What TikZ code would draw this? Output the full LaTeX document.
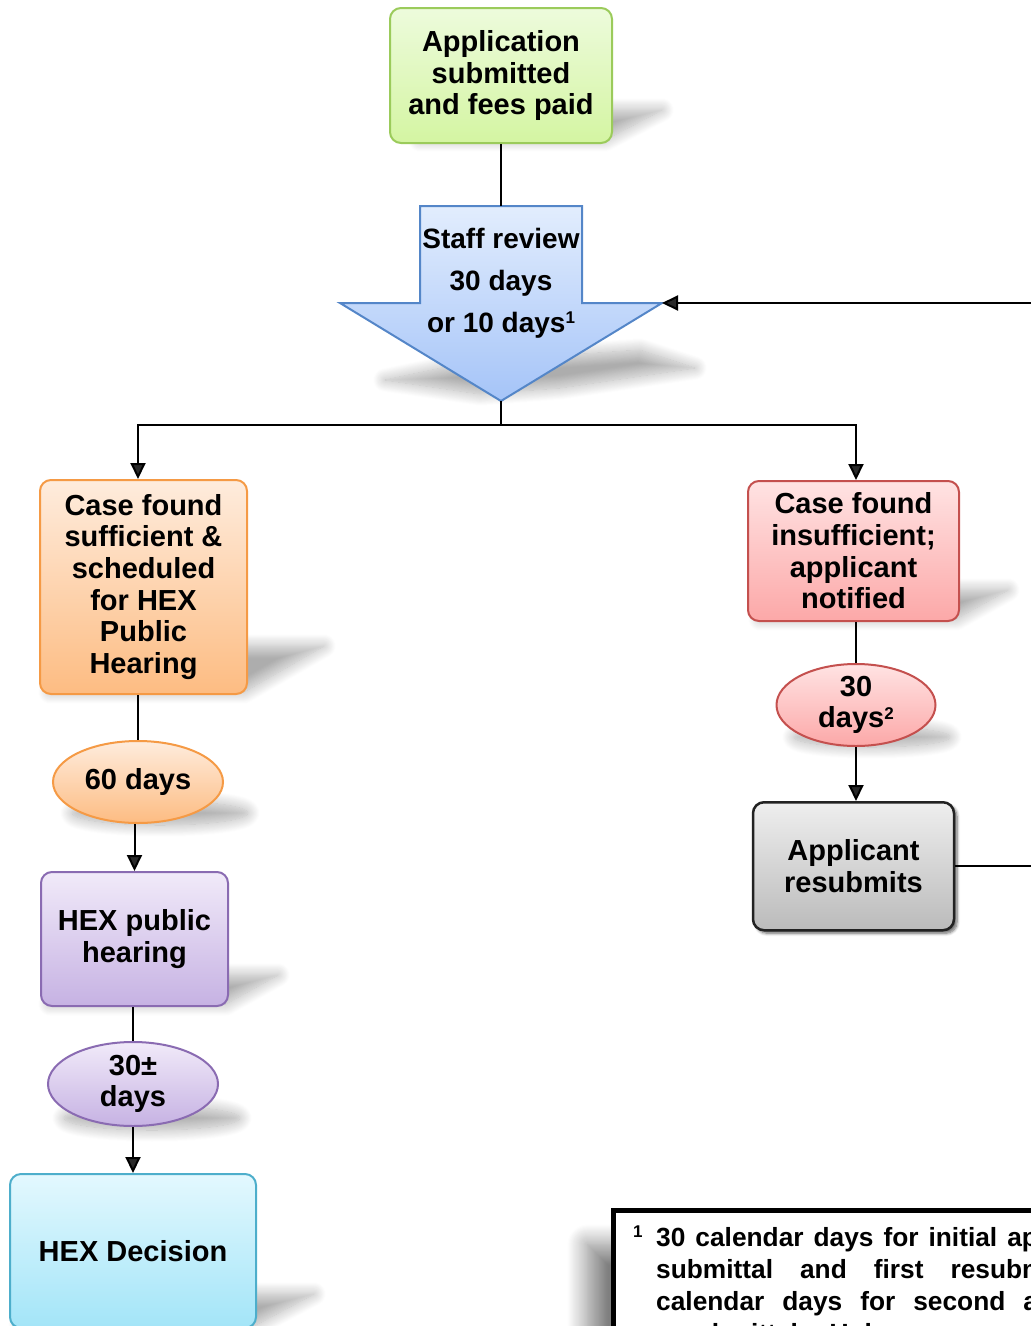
\documentclass[tikz,border=0pt]{standalone}
\usepackage{fontspec}
\setmainfont{Liberation Sans}
\usetikzlibrary{arrows.meta,shapes.geometric,shadows.blur,positioning}

\definecolor{appTop}{HTML}{EDFBDC}
\definecolor{appBot}{HTML}{D4F5A2}
\definecolor{appLine}{HTML}{9BCB5B}
\definecolor{revTop}{HTML}{E2EDFD}
\definecolor{revBot}{HTML}{A5C4F8}
\definecolor{revLine}{HTML}{5486C8}
\definecolor{sufTop}{HTML}{FEECDD}
\definecolor{sufBot}{HTML}{FDBC82}
\definecolor{sufLine}{HTML}{F59A45}
\definecolor{insTop}{HTML}{FFE3E3}
\definecolor{insBot}{HTML}{FCA8A8}
\definecolor{insLine}{HTML}{C4504E}
\definecolor{hexTop}{HTML}{F1EAF9}
\definecolor{hexBot}{HTML}{C6B2E3}
\definecolor{hexLine}{HTML}{8A6BB2}
\definecolor{decTop}{HTML}{E3F8FE}
\definecolor{decBot}{HTML}{A3E5F8}
\definecolor{decLine}{HTML}{4DAECB}
\definecolor{resTop}{HTML}{EEEEEE}
\definecolor{resBot}{HTML}{BBBBBB}
\definecolor{resLine}{HTML}{222222}

\newcommand{\boxfont}{\bfseries\fontsize{29}{31.7}\selectfont}
\newcommand{\reviewfont}{\bfseries\fontsize{28}{42}\selectfont}
\newcommand{\notefont}{\bfseries\fontsize{26.3}{32}\selectfont}
\newcommand{\wordgap}[2]{{\spaceskip=#1\relax #2}}
\newcommand{\fnmark}[1]{\raisebox{8.5pt}{\fontsize{17}{17}\selectfont #1}}

\begin{document}
\begin{tikzpicture}[x=1pt, y=-1pt,
  flow/.style={draw, line width=2pt, rounded corners=11pt, align=center, inner sep=0pt, font=\boxfont},
  oval/.style={draw, ellipse, line width=2pt, align=center, inner sep=-8pt, font=\boxfont},
  greenbox/.style={top color=appTop, bottom color=appBot, draw=appLine},
  orangebox/.style={top color=sufTop, bottom color=sufBot, draw=sufLine},
  redbox/.style={top color=insTop, bottom color=insBot, draw=insLine},
  purplebox/.style={top color=hexTop, bottom color=hexBot, draw=hexLine},
  cyanbox/.style={top color=decTop, bottom color=decBot, draw=decLine},
  graybox/.style={top color=resTop, bottom color=resBot, draw=resLine, line width=2.5pt,
    blur shadow={shadow xshift=3pt, shadow yshift=-3pt, shadow blur radius=3pt, shadow blur steps=6, shadow opacity=60}},
  link/.style={line width=2pt},
  arr/.style={link, -{Triangle[length=16pt, width=15pt]}},
  floor/.style={blur shadow={shadow xshift=0pt, shadow yshift=0pt, shadow blur radius=12pt, shadow blur steps=16, shadow opacity=32}}]
\useasboundingbox (0,0) rectangle (1031,1326);
\clip (0,0) rectangle (1031,1326);

% floor shadows
\path[floor] (420,140) -- (605,140) -- (662,110) -- (477,110) -- cycle;
\path[floor] (385,380) -- (480,394) -- (560,388) -- (695,368) -- (640,350) -- (470,362) -- cycle;
\path[floor] (50,692) -- (244,692) -- (324,646) -- (130,646) -- cycle;
\path[floor] (760,619) -- (956,619) -- (1008,590) -- (812,590) -- cycle;
\path[floor] (50,1004) -- (226,1004) -- (278,975) -- (102,975) -- cycle;
\path[floor] (20,1326) -- (254,1326) -- (314,1294) -- (80,1294) -- cycle;
\path[floor] (160,813) ellipse (88 and 12);
\path[floor] (152,1118) ellipse (88 and 12);
\path[floor] (872,737) ellipse (78 and 10);

% staff review arrow
\coordinate (rtop) at (501,206);
\coordinate (rtip) at (501,401);
\coordinate (rright) at (662,303);
\coordinate (split) at (501,425);
\shade[top color=revTop, bottom color=revBot, draw=revLine, line width=2pt]
  (420,206) -- (582,206) -- (582,303) -- (rright) -- (rtip) -- (340,303) -- (420,303) -- cycle;
\node[font=\reviewfont, align=center] (review) at (501,283) {Staff review\\30 days\\or 10 days\fnmark{1}};

\node[flow, greenbox, minimum width=222pt, minimum height=135pt] (app) at (501,75.5) {Application\\submitted\\and fees paid};

% sufficient branch
\node[flow, orangebox, minimum width=207pt, minimum height=214pt] (suff) at (143.5,587) {Case found\\sufficient \&\\scheduled\\for HEX\\Public\\Hearing};
\node[oval, orangebox, minimum width=170pt, minimum height=82pt] (days60) [below=45pt of suff, xshift=-5.5pt] {60 days};
\node[flow, purplebox, minimum width=187pt, minimum height=134pt] (pubhear) [below=47pt of days60, xshift=-3.5pt] {HEX public\\hearing};
\node[oval, purplebox, minimum width=170pt, minimum height=84pt] (days30pm) [below=34pt of pubhear, xshift=-1.5pt] {30±\\days};
\node[flow, cyanbox, minimum width=246pt, minimum height=154pt] (decision) [below=46pt of days30pm] {HEX Decision};

% insufficient branch
\node[flow, redbox, minimum width=211pt, minimum height=140pt] (insuff) at (853.5,551) {Case found\\insufficient;\\applicant\\notified};
\node[oval, redbox, minimum width=159pt, minimum height=82pt] (days30) [below=41pt of insuff, xshift=2.5pt] {30\\days\fnmark{2}};
\node[flow, graybox, minimum width=201pt, minimum height=128pt] (resub) [below=54pt of days30, xshift=-2.5pt] {Applicant\\resubmits};

% connectors
\draw[link] (app) -- (rtop);
\draw[link] (rtip) -- (split);
\draw[arr] (split) -| (suff.north -| days60);
\draw[arr] (split) -| (insuff.north -| days30);
\draw[link] (days60.north |- suff.south) -- (days60.north);
\draw[arr] (days60.south -| pubhear) -- (pubhear.north);
\draw[link] (pubhear.south -| days30pm) -- (days30pm.north);
\draw[arr] (days30pm) -- (decision);
\draw[link] (insuff.south -| days30) -- (days30.north);
\draw[arr] (days30.south) -- (days30.south |- resub.north);
\draw[arr] (resub.east) -- ++(120,0) |- (rright);

% footnote
\node[draw, line width=5pt, fill=white, anchor=north west, minimum width=600pt, minimum height=300pt,
  blur shadow={shadow xshift=-26pt, shadow yshift=-34pt, shadow blur radius=20pt, shadow blur steps=20, shadow opacity=50}] (frame) at (611,1208) {};
\node[font=\notefont, align=left, inner sep=0pt, anchor=north west] (note) at (633,1226)
  {\makebox[23pt][l]{\fnmark{1}}\wordgap{10pt}{30 calendar days for initial application}\\
   \hspace*{23pt}\wordgap{27pt}{submittal and first resubmittal, and 10}\\
   \hspace*{23pt}\wordgap{18pt}{calendar days for second and subsequent}\\
   \hspace*{23pt}resubmittals. Unless};
\end{tikzpicture}
\end{document}
